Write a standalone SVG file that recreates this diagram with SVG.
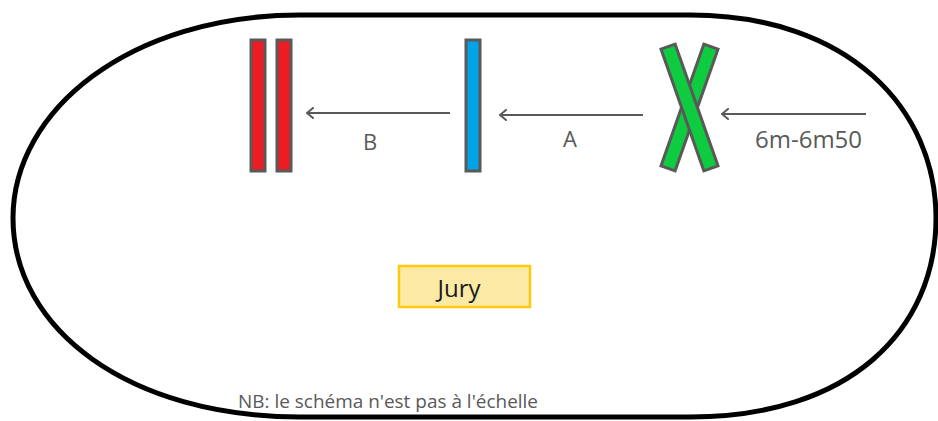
<svg xmlns="http://www.w3.org/2000/svg" width="938" height="421" viewBox="0 0 938 421">
<defs>
<marker id="arr" markerWidth="12" markerHeight="12" refX="8" refY="6" orient="auto" markerUnits="userSpaceOnUse">
<path d="M2,1 L8,6 L2,11" fill="none" stroke="#595959" stroke-width="2" stroke-linecap="round" stroke-linejoin="round"/>
</marker>
<style>
.bar{stroke:#595959;stroke-width:3}
.red{fill:#ED1C24}
.blue{fill:#00A2E8}
.green{fill:#0ECB40}
.conn{stroke:#595959;stroke-width:2.2;fill:none}
.lbl{font-family:"Open Sans","Noto Sans",sans-serif;fill:#595959}
</style>
</defs>
<rect width="938" height="421" fill="#fff"/>
<path id="track" d="M300,15 L690,15 C850,15 936,110 936,218 C936,330 850,417 690,417 L300,417 C130,417 13,330 13,218 C13,110 130,15 300,15 Z" fill="none" stroke="#000" stroke-width="5"/>
<g id="red-bars">
<rect class="bar red" x="251" y="40" width="14" height="131"/>
<rect class="bar red" x="277" y="40" width="14" height="131"/>
</g>
<g id="blue-bar">
<rect class="bar blue" x="466" y="40" width="14" height="131"/>
</g>
<g id="green-x">
<rect class="bar green" x="682" y="43" width="15" height="129" transform="rotate(19.4 689.5 107.5)"/>
<rect class="bar green" x="682" y="43" width="15" height="129" transform="rotate(-19.4 689.5 107.5)"/>
</g>
<g id="connectors">
<line class="conn" x1="866" y1="114" x2="722" y2="114" marker-end="url(#arr)"/>
<line class="conn" x1="643" y1="115" x2="500" y2="115" marker-end="url(#arr)"/>
<line class="conn" x1="450" y1="113" x2="307" y2="113" marker-end="url(#arr)"/>
</g>
<text class="lbl" x="755" y="148" font-size="24">6m-6m50</text>
<text class="lbl" x="570" y="147" font-size="22" text-anchor="middle">A</text>
<text class="lbl" x="370" y="150" font-size="22" text-anchor="middle">B</text>
<g id="jury">
<rect x="399" y="266" width="131" height="41" fill="#FBE9A4" stroke="#FFC90E" stroke-width="2.5"/>
<text x="459" y="297" font-family="'Open Sans','Noto Sans',sans-serif" font-size="24" fill="#1a1a1a" text-anchor="middle">Jury</text>
</g>
<text class="lbl" x="238" y="408" font-size="18" textLength="300" lengthAdjust="spacingAndGlyphs">NB: le schéma n'est pas à l'échelle</text>
</svg>
